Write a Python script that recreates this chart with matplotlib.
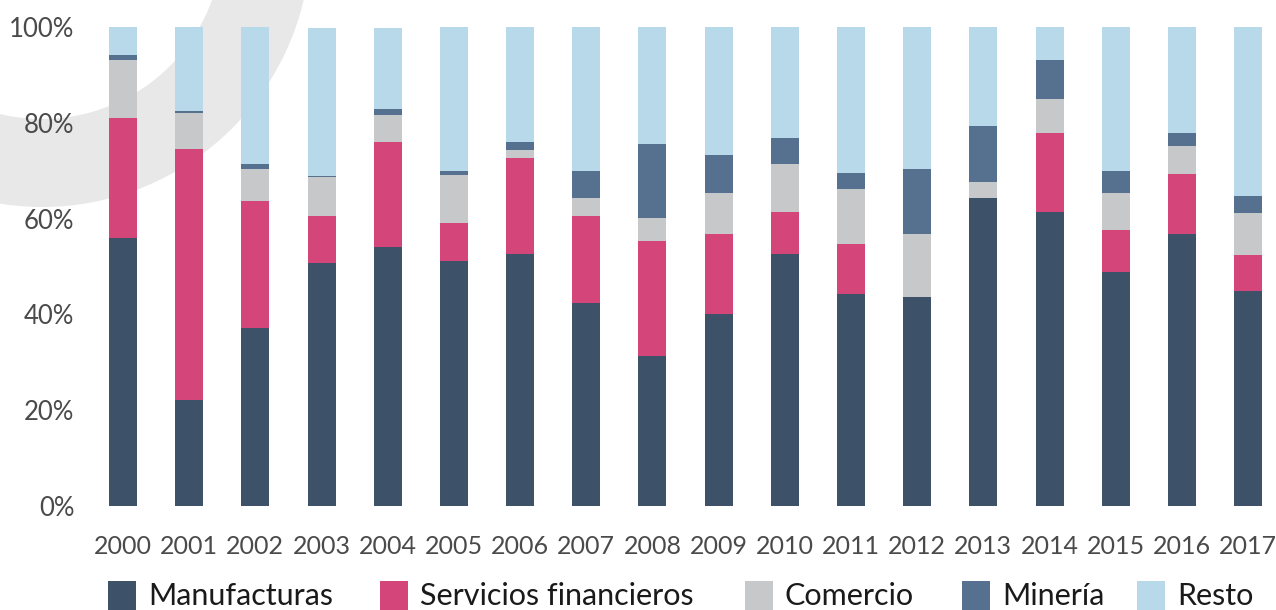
import numpy as np
import matplotlib
matplotlib.use("Agg")
import matplotlib.pyplot as plt
import matplotlib.patches as patches

plt.rcParams["font.family"] = ["Lato", "DejaVu Sans"]

# shares of each sector per year (%)
years = [str(y) for y in range(2000, 2018)]
manufacturas = [55.9, 22.1, 37.2, 50.7, 54.1, 51.1, 52.6, 42.4, 31.3, 40.1,
                52.6, 44.3, 43.6, 64.2, 61.4, 48.8, 56.7, 44.8]
servicios = [25.1, 52.4, 26.5, 9.8, 21.9, 7.9, 20.0, 18.1, 24.0, 16.7,
             8.8, 10.5, 0.0, 0.0, 16.4, 8.8, 12.6, 7.7]
comercio = [12.2, 7.5, 6.6, 8.2, 5.6, 10.0, 1.7, 3.9, 4.8, 8.5,
            9.9, 11.3, 13.1, 3.4, 7.1, 7.7, 5.9, 8.6]
mineria = [1.0, 0.5, 1.0, 0.2, 1.3, 0.9, 1.6, 5.5, 15.4, 7.9,
           5.5, 3.4, 13.6, 11.7, 8.3, 4.6, 2.7, 3.6]
resto = [5.8, 17.5, 28.7, 30.8, 16.8, 30.1, 24.1, 30.1, 24.5, 26.8,
         23.2, 30.5, 29.7, 20.7, 6.8, 30.1, 22.1, 35.3]

labels = ["Manufacturas", "Servicios financieros", "Comercio", "Minería", "Resto"]
colors = ["#3d5169", "#d4467a", "#c7c8ca", "#56708f", "#b8d9ea"]
series = [manufacturas, servicios, comercio, mineria, resto]

W, H = 1276, 610
fig = plt.figure(figsize=(W / 100, H / 100), dpi=100)

# full-figure axes in pixel units: decorative ring + legend
bg = fig.add_axes([0, 0, 1, 1], zorder=0)
bg.set_xlim(0, W)
bg.set_ylim(H, 0)
bg.axis("off")
bg.add_patch(patches.Wedge((42, -62), 269, 0, 360, width=88,
                           facecolor="#e8e8e8", edgecolor="none"))

# main chart axes, placed by pixel
left_px, right_px, top_px, bottom_px = 80, 1270, 20, 506
x0_px, step_px, ppp = 123, 66.18, 4.79
ax = fig.add_axes([left_px / W, (H - bottom_px) / H,
                   (right_px - left_px) / W, (bottom_px - top_px) / H], zorder=1)
ax.patch.set_alpha(0)
ax.set_xlim((left_px - x0_px) / step_px, (right_px - x0_px) / step_px)
ax.set_ylim(0, (bottom_px - top_px) / ppp)

x = np.arange(len(years))
bottom = np.zeros(len(years))
for vals, col, lab in zip(series, colors, labels):
    ax.bar(x, vals, width=28 / step_px, bottom=bottom, color=col,
           linewidth=0, label=lab)
    bottom += np.array(vals)

ax.set_xticks(x)
ax.set_xticklabels(years)
ax.set_yticks([0, 20, 40, 60, 80, 100])
ax.set_yticklabels(["0%", "20%", "40%", "60%", "80%", "100%"])
ax.tick_params(axis="x", length=0, pad=21, labelsize=18, labelcolor="#4a4a4a")
ax.tick_params(axis="y", length=0, pad=4, labelsize=18.5, labelcolor="#4a4a4a")
for s in ax.spines.values():
    s.set_visible(False)

# legend, laid out by hand to match the reference spacing
sq_x = [108, 380, 745, 962, 1137]
for sx, col, lab in zip(sq_x, colors, labels):
    bg.add_patch(patches.Rectangle((sx, 581), 28, 32, facecolor=col, edgecolor="none"))
    bg.text(sx + 40, 596, lab, fontsize=22, color="#1a1a1a", va="center", ha="left")

fig.savefig("out.png", dpi=100)
